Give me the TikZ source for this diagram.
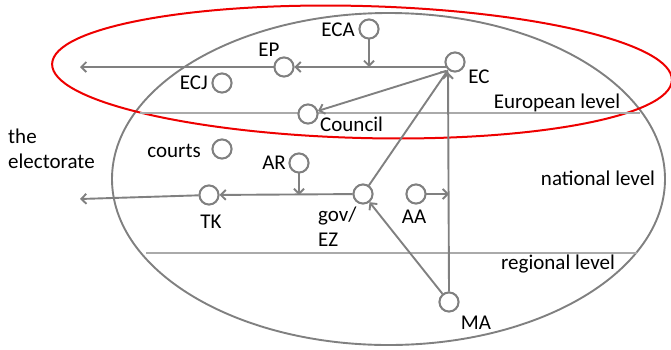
\documentclass[tikz,border=0pt]{standalone}
\usepackage{fontspec}
\setmainfont{Carlito}
\usetikzlibrary{arrows.meta}
\definecolor{linegray}{HTML}{808080}
\definecolor{levelgray}{HTML}{AAAAAA}
\definecolor{euRed}{HTML}{EE0000}
\begin{document}
\begin{tikzpicture}[x=1pt,y=-1pt,
  actor/.style={circle,draw=linegray,line width=1.9pt,fill=white,minimum size=19pt,inner sep=0pt},
  lbl/.style={inner sep=0pt,font=\fontsize{21}{24.5}\selectfont,text=black},
  flow/.style={draw=linegray,line width=1.9pt,-{Straight Barb[length=5pt,width=10pt]}},
  level/.style={draw=levelgray,line width=1.5pt}]
\useasboundingbox (0,0) rectangle (671,349);

% outer boundary and the European sphere
\draw[linegray,line width=1.9pt] (388.5,179) ellipse [x radius=276.5, y radius=166];
\draw[euRed,line width=2pt,rotate around={-1.5:(362,72)}] (362,72) ellipse [x radius=310, y radius=66];

% level separators
\coordinate (euL) at (140,113);
\coordinate (euR) at (640,113);
\coordinate (rgL) at (146,253);
\coordinate (rgR) at (637,253);
\draw[level] (euL) -- (euR);
\draw[level] (rgL) -- (rgR);

% actors
\node[actor] (ECA) at (369,29) {};
\node[actor] (EP) at (284,67) {};
\node[actor] (EC) at (455,62) {};
\node[actor] (ECJ) at (222,83) {};
\node[actor] (Council) at (308,114) {};
\node[actor] (courts) at (222,149) {};
\node[actor] (AR) at (299,163) {};
\node[actor] (TK) at (209,195) {};
\node[actor] (gov) at (363,194) {};
\node[actor] (AA) at (416,194) {};
\node[actor] (MA) at (449,302) {};

% free ends and junctions
\coordinate (outEP) at (80,67);
\coordinate (outTK) at (80,199);
\coordinate (jECA) at (369,67);
\coordinate (jAR) at (299,195);
\coordinate (ECin) at (448,70);
\coordinate (ECout) at (446,67);
\coordinate (ECsw) at (446,71);
\coordinate (vAA) at (449,194);

% connectors
\draw[flow] (ECout) -- (EP);
\draw[flow] (ECA) -- (jECA);
\draw[flow] (EP) -- (outEP);
\draw[flow] (ECsw) -- (Council);
\draw[flow] (gov) -- (ECin);
\draw[flow] (MA.north) -- (ECin |- EC.south);
\draw[flow] (AA) -- (vAA);
\draw[flow] (MA) -- (gov);
\draw[flow] (gov) -- (TK);
\draw[flow] (AR) -- (jAR);
\draw[flow] (TK) -- (outTK);

% redraw actors over the lines
\foreach \n in {ECA,EP,EC,ECJ,Council,courts,AR,TK,gov,AA,MA}
  \node[actor] at (\n) {};

% labels
\node[lbl,anchor=east] (tECA) at (355,30) {ECA};
\node[lbl] (tEP) at (269,50) {EP};
\node[lbl] (tEC) at (479,77) {EC};
\node[lbl,anchor=east] (tECJ) at (208,83) {ECJ};
\node[lbl,anchor=west] (tCouncil) at (320,124) {Council};
\node[lbl,anchor=east] (tcourts) at (201,151) {courts};
\node[lbl,anchor=east] (tAR) at (286,163) {AR};
\node[lbl] (tTK) at (211,222) {TK};
\node[lbl,anchor=north west,align=left] (tgov) at (318,207) {gov/\\EZ};
\node[lbl] (tAA) at (414,217) {AA};
\node[lbl] (tMA) at (476,323) {MA};
\node[lbl] (tEU) at (557,103) {European level};
\node[lbl] (tNat) at (598,178) {national level};
\node[lbl] (tReg) at (558,264) {regional level};
\node[lbl,anchor=north west,align=left] (tElect) at (8,129) {the\\electorate};
\end{tikzpicture}
\end{document}
